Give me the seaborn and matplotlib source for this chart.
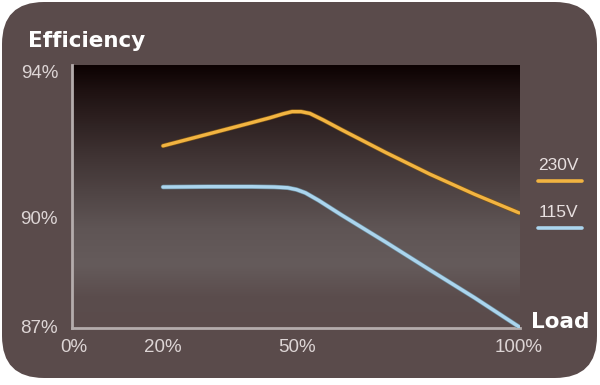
import numpy as np
import pandas as pd
import matplotlib
matplotlib.use('Agg')
import matplotlib.pyplot as plt
import matplotlib.patheffects as pe
from matplotlib.colors import LinearSegmentedColormap
from matplotlib.patches import FancyBboxPatch
from matplotlib.lines import Line2D
import seaborn as sns

# values (load in %, efficiency in %)
load_230 = [20, 30, 40, 44, 47, 49, 51, 53, 56, 60, 70, 80, 90, 100]
eff_230 = [91.97, 92.29, 92.61, 92.74, 92.85, 92.91, 92.91, 92.86, 92.68, 92.42,
           91.79, 91.19, 90.64, 90.13]
load_115 = [20, 30, 40, 45, 48, 50, 52, 55, 60, 70, 80, 90, 100]
eff_115 = [90.84, 90.85, 90.85, 90.84, 90.82, 90.77, 90.68, 90.47, 90.08, 89.33,
           88.56, 87.8, 87.0]
series_names = ['230V', '115V']
series_colors = ['#f2b441', '#abd5ee']
x_ticks = [0, 20, 50, 100]
x_tick_labels = ['0%', '20%', '50%', '100%']
y_ticks = [87, 90, 94]
y_tick_labels = ['87%', '90%', '94%']

df = pd.concat([
    pd.DataFrame({'Load': load_230, 'Efficiency': eff_230, 'Input': '230V'}),
    pd.DataFrame({'Load': load_115, 'Efficiency': eff_115, 'Input': '115V'}),
])

sns.set_style('white')
plt.rcParams['font.family'] = ['DejaVu Sans']

bg = '#5a4b4b'
fig = plt.figure(figsize=(6, 3.85), dpi=100, facecolor='white')

# rounded panel behind everything
panel = FancyBboxPatch((0.02, 0.07), 5.95, 3.76,
                       boxstyle='round,pad=0,rounding_size=0.42',
                       transform=fig.dpi_scale_trans, facecolor=bg,
                       edgecolor='none', zorder=-5)
fig.patches.append(panel)

ax = fig.add_axes([72 / 600, 1 - 328 / 385, 448 / 600, 263 / 385])
ax.set_zorder(1)
ax.set_facecolor('none')
ax.set_xlim(-0.45, 100.2)
ax.set_ylim(86.97, 94.19)

# dark-to-grey gradient in the plot area
cmap = LinearSegmentedColormap.from_list('grad', [
    (0.0, '#0c0202'), (0.1, '#1f1212'), (0.35, '#403434'),
    (0.62, '#5f5555'), (0.76, '#655b5b'), (0.88, '#5b4d4d'), (1.0, bg)])
grad = np.linspace(0, 1, 256).reshape(-1, 1)
ax.imshow(grad, cmap=cmap, aspect='auto', extent=[-0.45, 100.2, 86.97, 94.19],
          origin='upper', zorder=0)

sns.lineplot(data=df, x='Load', y='Efficiency', hue='Input',
             palette=dict(zip(series_names, series_colors)), linewidth=2.4,
             legend=False, ax=ax, zorder=3)
for line, c in zip(ax.get_lines(), ['#7a5418', '#6b8a9a']):
    line.set_solid_joinstyle('round')
    line.set_solid_capstyle('round')
    line.set_path_effects([pe.Stroke(linewidth=3.3, foreground=c), pe.Normal()])

for s in ['top', 'right']:
    ax.spines[s].set_visible(False)
for s in ['left', 'bottom']:
    ax.spines[s].set_color('#b4acac')
    ax.spines[s].set_linewidth(2)

ax.set_xticks(x_ticks)
ax.set_xticklabels(x_tick_labels)
ax.set_yticks(y_ticks)
ax.set_yticklabels(y_tick_labels)
ax.tick_params(length=0, labelsize=13.5, labelcolor='#ddd5d5')
for lab in ax.get_xticklabels() + ax.get_yticklabels():
    lab.set_family('Liberation Sans')
ax.tick_params(axis='x', pad=8)
ax.tick_params(axis='y', pad=10)
ax.set_xlabel('')
ax.set_ylabel('')

fig.text(28 / 600, 1 - 41 / 385, 'Efficiency', color='white', fontsize=15.5,
         fontweight='bold', va='center', ha='left')
fig.text(531 / 600, 1 - 322 / 385, 'Load', color='white', fontsize=15.5,
         fontweight='bold', va='center', ha='left')

# hand-made legend: label above a short swatch
for i, (name, c) in enumerate(zip(series_names, series_colors)):
    ty = 166 + i * 47
    fig.text(558 / 600, 1 - ty / 385, name, color='#e8e0e0', fontsize=12.5,
             family='Liberation Sans', va='center', ha='center')
    fig.add_artist(Line2D([538 / 600, 582 / 600], [1 - (ty + 15) / 385] * 2,
                          color=c, linewidth=2.6, transform=fig.transFigure))

fig.savefig('out.png', dpi=100, facecolor='white')
